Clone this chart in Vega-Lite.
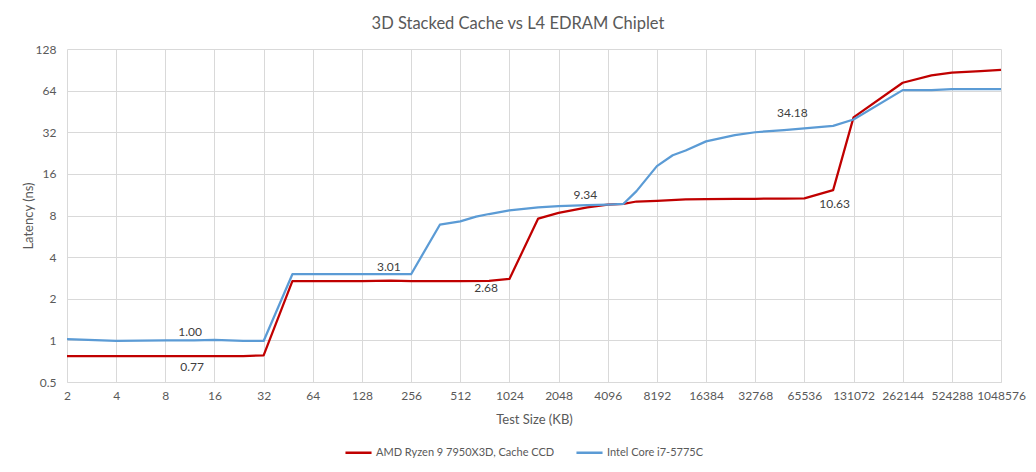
{
  "$schema": "https://vega.github.io/schema/vega-lite/v6.json",
  "width": 934,
  "height": 333,
  "autosize": {"type": "none"},
  "padding": {"left": 67, "top": 49, "right": 35, "bottom": 90},
  "background": "white",
  "title": {
    "text": "3D Stacked Cache vs L4 EDRAM Chiplet",
    "font": "Lato",
    "fontSize": 16.5,
    "fontWeight": "normal",
    "color": "#595959",
    "anchor": "middle",
    "dx": -16,
    "offset": 11
  },
  "config": {
    "view": {"stroke": null},
    "font": "Lato",
    "axis": {
      "labelFont": "Lato",
      "labelFontSize": 12,
      "labelColor": "#595959",
      "titleFont": "Lato",
      "titleFontSize": 13,
      "titleFontWeight": "normal",
      "titleColor": "#595959",
      "gridColor": "#d9d9d9",
      "gridWidth": 1,
      "ticks": false
    },
    "legend": {
      "labelFont": "Lato",
      "labelFontSize": 11,
      "labelColor": "#595959",
      "labelLimit": 400
    }
  },
  "datasets": {
    "latency": [
      {"size": 2, "cpu": "AMD Ryzen 9 7950X3D, Cache CCD", "latency": 0.77},
      {"size": 4, "cpu": "AMD Ryzen 9 7950X3D, Cache CCD", "latency": 0.77},
      {"size": 8, "cpu": "AMD Ryzen 9 7950X3D, Cache CCD", "latency": 0.77},
      {"size": 12, "cpu": "AMD Ryzen 9 7950X3D, Cache CCD", "latency": 0.77},
      {"size": 16, "cpu": "AMD Ryzen 9 7950X3D, Cache CCD", "latency": 0.77},
      {"size": 24, "cpu": "AMD Ryzen 9 7950X3D, Cache CCD", "latency": 0.77},
      {"size": 32, "cpu": "AMD Ryzen 9 7950X3D, Cache CCD", "latency": 0.78},
      {"size": 48, "cpu": "AMD Ryzen 9 7950X3D, Cache CCD", "latency": 2.68},
      {"size": 64, "cpu": "AMD Ryzen 9 7950X3D, Cache CCD", "latency": 2.68},
      {"size": 96, "cpu": "AMD Ryzen 9 7950X3D, Cache CCD", "latency": 2.68},
      {"size": 128, "cpu": "AMD Ryzen 9 7950X3D, Cache CCD", "latency": 2.68},
      {"size": 192, "cpu": "AMD Ryzen 9 7950X3D, Cache CCD", "latency": 2.71},
      {"size": 256, "cpu": "AMD Ryzen 9 7950X3D, Cache CCD", "latency": 2.68},
      {"size": 384, "cpu": "AMD Ryzen 9 7950X3D, Cache CCD", "latency": 2.68},
      {"size": 512, "cpu": "AMD Ryzen 9 7950X3D, Cache CCD", "latency": 2.68},
      {"size": 768, "cpu": "AMD Ryzen 9 7950X3D, Cache CCD", "latency": 2.69},
      {"size": 1024, "cpu": "AMD Ryzen 9 7950X3D, Cache CCD", "latency": 2.78},
      {"size": 1536, "cpu": "AMD Ryzen 9 7950X3D, Cache CCD", "latency": 7.6},
      {"size": 2048, "cpu": "AMD Ryzen 9 7950X3D, Cache CCD", "latency": 8.35},
      {"size": 3072, "cpu": "AMD Ryzen 9 7950X3D, Cache CCD", "latency": 9.15},
      {"size": 4096, "cpu": "AMD Ryzen 9 7950X3D, Cache CCD", "latency": 9.6},
      {"size": 5120, "cpu": "AMD Ryzen 9 7950X3D, Cache CCD", "latency": 9.72},
      {"size": 6144, "cpu": "AMD Ryzen 9 7950X3D, Cache CCD", "latency": 10.1},
      {"size": 8192, "cpu": "AMD Ryzen 9 7950X3D, Cache CCD", "latency": 10.2},
      {"size": 12288, "cpu": "AMD Ryzen 9 7950X3D, Cache CCD", "latency": 10.45},
      {"size": 16384, "cpu": "AMD Ryzen 9 7950X3D, Cache CCD", "latency": 10.5},
      {"size": 24576, "cpu": "AMD Ryzen 9 7950X3D, Cache CCD", "latency": 10.55},
      {"size": 32768, "cpu": "AMD Ryzen 9 7950X3D, Cache CCD", "latency": 10.57},
      {"size": 49152, "cpu": "AMD Ryzen 9 7950X3D, Cache CCD", "latency": 10.6},
      {"size": 65536, "cpu": "AMD Ryzen 9 7950X3D, Cache CCD", "latency": 10.63},
      {"size": 98304, "cpu": "AMD Ryzen 9 7950X3D, Cache CCD", "latency": 12.2},
      {"size": 131072, "cpu": "AMD Ryzen 9 7950X3D, Cache CCD", "latency": 41.0},
      {"size": 262144, "cpu": "AMD Ryzen 9 7950X3D, Cache CCD", "latency": 73.0},
      {"size": 393216, "cpu": "AMD Ryzen 9 7950X3D, Cache CCD", "latency": 82.5},
      {"size": 524288, "cpu": "AMD Ryzen 9 7950X3D, Cache CCD", "latency": 86.5},
      {"size": 786432, "cpu": "AMD Ryzen 9 7950X3D, Cache CCD", "latency": 88.5},
      {"size": 1048576, "cpu": "AMD Ryzen 9 7950X3D, Cache CCD", "latency": 90.5},
      {"size": 2, "cpu": "Intel Core i7-5775C", "latency": 1.02},
      {"size": 4, "cpu": "Intel Core i7-5775C", "latency": 0.99},
      {"size": 8, "cpu": "Intel Core i7-5775C", "latency": 1.0},
      {"size": 12, "cpu": "Intel Core i7-5775C", "latency": 1.0},
      {"size": 16, "cpu": "Intel Core i7-5775C", "latency": 1.01},
      {"size": 24, "cpu": "Intel Core i7-5775C", "latency": 0.99},
      {"size": 32, "cpu": "Intel Core i7-5775C", "latency": 0.99},
      {"size": 48, "cpu": "Intel Core i7-5775C", "latency": 3.01},
      {"size": 64, "cpu": "Intel Core i7-5775C", "latency": 3.01},
      {"size": 96, "cpu": "Intel Core i7-5775C", "latency": 3.01},
      {"size": 128, "cpu": "Intel Core i7-5775C", "latency": 3.01},
      {"size": 192, "cpu": "Intel Core i7-5775C", "latency": 3.01},
      {"size": 256, "cpu": "Intel Core i7-5775C", "latency": 3.01},
      {"size": 384, "cpu": "Intel Core i7-5775C", "latency": 6.86},
      {"size": 512, "cpu": "Intel Core i7-5775C", "latency": 7.25},
      {"size": 640, "cpu": "Intel Core i7-5775C", "latency": 7.85},
      {"size": 768, "cpu": "Intel Core i7-5775C", "latency": 8.2},
      {"size": 1024, "cpu": "Intel Core i7-5775C", "latency": 8.7},
      {"size": 1536, "cpu": "Intel Core i7-5775C", "latency": 9.15},
      {"size": 2048, "cpu": "Intel Core i7-5775C", "latency": 9.34},
      {"size": 3072, "cpu": "Intel Core i7-5775C", "latency": 9.5},
      {"size": 4096, "cpu": "Intel Core i7-5775C", "latency": 9.6},
      {"size": 5120, "cpu": "Intel Core i7-5775C", "latency": 9.72},
      {"size": 6144, "cpu": "Intel Core i7-5775C", "latency": 12.0},
      {"size": 8192, "cpu": "Intel Core i7-5775C", "latency": 18.2},
      {"size": 10240, "cpu": "Intel Core i7-5775C", "latency": 21.8},
      {"size": 12288, "cpu": "Intel Core i7-5775C", "latency": 23.6},
      {"size": 16384, "cpu": "Intel Core i7-5775C", "latency": 27.5},
      {"size": 24576, "cpu": "Intel Core i7-5775C", "latency": 30.5},
      {"size": 32768, "cpu": "Intel Core i7-5775C", "latency": 32.0},
      {"size": 49152, "cpu": "Intel Core i7-5775C", "latency": 33.2},
      {"size": 65536, "cpu": "Intel Core i7-5775C", "latency": 34.18},
      {"size": 98304, "cpu": "Intel Core i7-5775C", "latency": 35.6},
      {"size": 131072, "cpu": "Intel Core i7-5775C", "latency": 39.6},
      {"size": 262144, "cpu": "Intel Core i7-5775C", "latency": 64.5},
      {"size": 393216, "cpu": "Intel Core i7-5775C", "latency": 64.6},
      {"size": 524288, "cpu": "Intel Core i7-5775C", "latency": 65.5},
      {"size": 786432, "cpu": "Intel Core i7-5775C", "latency": 65.6},
      {"size": 1048576, "cpu": "Intel Core i7-5775C", "latency": 65.6}
    ],
    "callouts": [
      {"size": 8, "latency": 1.0, "label": "1.00"},
      {"size": 8, "latency": 0.77, "label": "0.77"},
      {"size": 128, "latency": 3.01, "label": "3.01"},
      {"size": 512, "latency": 2.68, "label": "2.68"},
      {"size": 2048, "latency": 9.34, "label": "9.34"},
      {"size": 65536, "latency": 34.18, "label": "34.18"},
      {"size": 65536, "latency": 10.63, "label": "10.63"}
    ]
  },
  "encoding": {
    "x": {
      "field": "size",
      "type": "quantitative",
      "scale": {"type": "log", "base": 2, "domain": [2, 1048576], "nice": false},
      "axis": {
        "title": "Test Size (KB)",
        "values": [2, 4, 8, 16, 32, 64, 128, 256, 512, 1024, 2048, 4096, 8192, 16384, 32768, 65536, 131072, 262144, 524288, 1048576],
        "format": "d",
        "labelPadding": 8,
        "titlePadding": 12,
        "domainColor": "#d9d9d9",
        "labelFlush": false
      }
    },
    "y": {
      "field": "latency",
      "type": "quantitative",
      "scale": {"type": "log", "base": 2, "domain": [0.5, 128], "nice": false},
      "axis": {
        "title": "Latency (ns)",
        "values": [0.5, 1, 2, 4, 8, 16, 32, 64, 128],
        "format": "~g",
        "labelPadding": 11,
        "titlePadding": 0,
        "domain": false
      }
    }
  },
  "layer": [
    {
      "data": {"name": "latency"},
      "mark": {"type": "line", "strokeWidth": 2.25, "strokeJoin": "round"},
      "encoding": {
        "color": {
          "field": "cpu",
          "type": "nominal",
          "scale": {
            "domain": ["AMD Ryzen 9 7950X3D, Cache CCD", "Intel Core i7-5775C"],
            "range": ["#C00000", "#5B9BD5"]
          },
          "legend": {
            "title": null,
            "orient": "none",
            "direction": "horizontal",
            "legendX": 277,
            "legendY": 389,
            "symbolType": "stroke",
            "symbolSize": 680,
            "symbolStrokeWidth": 2.5,
            "labelOffset": 3,
            "columnPadding": 16
          }
        }
      }
    },
    {
      "data": {"name": "callouts"},
      "transform": [{"filter": "datum.label == '1.00'"}],
      "mark": {"type": "text", "align": "left", "baseline": "middle", "dx": 13, "dy": -8, "fontSize": 12, "color": "#404040"},
      "encoding": {"text": {"field": "label"}}
    },
    {
      "data": {"name": "callouts"},
      "transform": [{"filter": "datum.label == '0.77'"}],
      "mark": {"type": "text", "align": "left", "baseline": "middle", "dx": 15, "dy": 11, "fontSize": 12, "color": "#404040"},
      "encoding": {"text": {"field": "label"}}
    },
    {
      "data": {"name": "callouts"},
      "transform": [{"filter": "datum.label == '3.01'"}],
      "mark": {"type": "text", "align": "left", "baseline": "middle", "dx": 15, "dy": -7, "fontSize": 12, "color": "#404040"},
      "encoding": {"text": {"field": "label"}}
    },
    {
      "data": {"name": "callouts"},
      "transform": [{"filter": "datum.label == '2.68'"}],
      "mark": {"type": "text", "align": "left", "baseline": "middle", "dx": 14, "dy": 7, "fontSize": 12, "color": "#404040"},
      "encoding": {"text": {"field": "label"}}
    },
    {
      "data": {"name": "callouts"},
      "transform": [{"filter": "datum.label == '9.34'"}],
      "mark": {"type": "text", "align": "left", "baseline": "middle", "dx": 15, "dy": -11, "fontSize": 12, "color": "#404040"},
      "encoding": {"text": {"field": "label"}}
    },
    {
      "data": {"name": "callouts"},
      "transform": [{"filter": "datum.label == '34.18'"}],
      "mark": {"type": "text", "align": "center", "baseline": "middle", "dx": -12, "dy": -15, "fontSize": 12, "color": "#404040"},
      "encoding": {"text": {"field": "label"}}
    },
    {
      "data": {"name": "callouts"},
      "transform": [{"filter": "datum.label == '10.63'"}],
      "mark": {"type": "text", "align": "left", "baseline": "middle", "dx": 15, "dy": 6, "fontSize": 12, "color": "#404040"},
      "encoding": {"text": {"field": "label"}}
    }
  ]
}
